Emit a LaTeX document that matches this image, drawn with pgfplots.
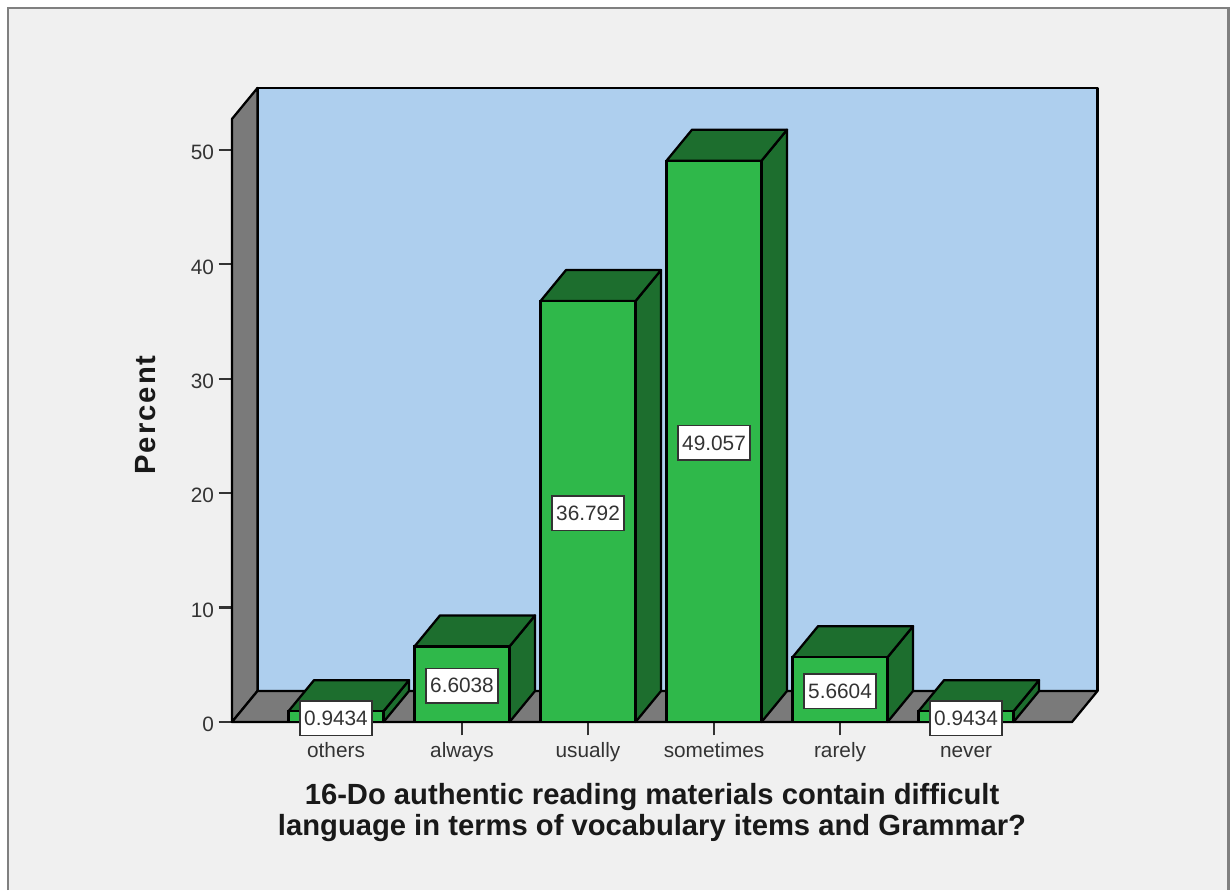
\documentclass[border=0pt]{standalone}
\usepackage{pgfplots}
\pgfplotsset{compat=1.18}
\usepackage{fontspec}
\setmainfont{Liberation Sans}
\definecolor{bgc}{HTML}{F0F0F0}
\definecolor{framec}{HTML}{808080}
\definecolor{wallc}{HTML}{AECFEE}
\definecolor{sidec}{HTML}{7A7A7A}
\definecolor{gfront}{HTML}{2FB84A}
\definecolor{gdark}{HTML}{1D6E2E}
\definecolor{txtc}{HTML}{333333}
\pgfplotsset{
  face/.style={draw=black,line width=1.7pt,line join=round,forget plot},
  fside/.style={face,fill=gdark},
}
\begin{document}
\begin{tikzpicture}
\path[fill=white] (0,0) rectangle (922.5pt,667.5pt);
\path[fill=bgc,draw=framec,line width=2pt] (6pt,0pt) -- (6pt,661.5pt) -- (921.5pt,661.5pt) -- (921.5pt,0pt);
\begin{axis}[
  at={(174pt,126pt)},anchor=south west,
  scale only axis,width=630pt,height=452.25pt,
  clip=false,
  xmin=-0.8254,xmax=5.841,ymin=0,ymax=52.71,
  axis x line*=bottom,axis y line*=left,
  axis line style={-,black,line width=1.7pt},
  xtick={0,1,2,3,4,5},
  xticklabels={others,always,usually,sometimes,rarely,never},
  ytick={0,10,20,30,40,50},
  tick style={txtc,line width=1.7pt},
  tick align=outside,
  major tick length=10pt,
  tick label style={font=\fontsize{15.6pt}{18pt}\selectfont,text=txtc},
  /pgf/number format/assume math mode=true,
  xticklabel style={text height=11.5pt,text depth=3.5pt,yshift=-1.5pt},
  yticklabel style={xshift=0pt,yshift=-2pt},
  xlabel={16-Do authentic reading materials contain difficult\\language in terms of vocabulary items and Grammar?},
  xlabel style={at={(axis description cs:0.5,-0.1500)},anchor=center,align=center,
    font=\fontsize{21.9pt}{23.2pt}\selectfont\bfseries,text=black!90},
  ylabel={Percent},
  ylabel style={at={(axis description cs:-0.1024,0.509)},anchor=center,
    font=\fontsize{21.9pt}{23pt}\selectfont\bfseries\addfontfeature{LetterSpace=7},text=black!90},
]
% back wall, left wall, floor
\addplot[face,fill=wallc] coordinates {(-0.6230,2.71)(6.0434,2.71)(6.0434,55.42)(-0.6230,55.42)} -- cycle;
\addplot[face,fill=sidec] coordinates {(-0.8254,0)(-0.6230,2.71)(-0.6230,55.42)(-0.8254,52.71)} -- cycle;
\addplot[face,fill=sidec] coordinates {(-0.8254,0)(5.841,0)(6.0434,2.71)(-0.6230,2.71)} -- cycle;
% others
\addplot[fside] coordinates {(0.377,0)(0.5794,2.71)(0.5794,3.6534)(0.377,0.9434)} -- cycle;
\addplot[fside] coordinates {(-0.377,0.9434)(0.377,0.9434)(0.5794,3.6534)(-0.1746,3.6534)} -- cycle;
% always
\addplot[fside] coordinates {(1.377,0)(1.5794,2.71)(1.5794,9.3138)(1.377,6.6038)} -- cycle;
\addplot[fside] coordinates {(0.623,6.6038)(1.377,6.6038)(1.5794,9.3138)(0.8254,9.3138)} -- cycle;
% usually
\addplot[fside] coordinates {(2.377,0)(2.5794,2.71)(2.5794,39.502)(2.377,36.792)} -- cycle;
\addplot[fside] coordinates {(1.623,36.792)(2.377,36.792)(2.5794,39.502)(1.8254,39.502)} -- cycle;
% sometimes
\addplot[fside] coordinates {(3.377,0)(3.5794,2.71)(3.5794,51.767)(3.377,49.057)} -- cycle;
\addplot[fside] coordinates {(2.623,49.057)(3.377,49.057)(3.5794,51.767)(2.8254,51.767)} -- cycle;
% rarely
\addplot[fside] coordinates {(4.377,0)(4.5794,2.71)(4.5794,8.3704)(4.377,5.6604)} -- cycle;
\addplot[fside] coordinates {(3.623,5.6604)(4.377,5.6604)(4.5794,8.3704)(3.8254,8.3704)} -- cycle;
% never
\addplot[fside] coordinates {(5.377,0)(5.5794,2.71)(5.5794,3.6534)(5.377,0.9434)} -- cycle;
\addplot[fside] coordinates {(4.623,0.9434)(5.377,0.9434)(5.5794,3.6534)(4.8254,3.6534)} -- cycle;
% front faces
\addplot[ybar,bar shift=0pt,bar width=71.25pt,fill=gfront,draw=black,line width=1.7pt,forget plot]
  coordinates {(0,0.9434)(1,6.6038)(2,36.792)(3,49.057)(4,5.6604)(5,0.9434)};
% value labels
\addplot[draw=none,mark=none,point meta=explicit symbolic,forget plot,
  nodes near coords,
  nodes near coords style={anchor=center,fill=white,draw=black!80,line width=1.3pt,
    font=\fontsize{15.6pt}{18pt}\selectfont,text=txtc,inner xsep=3.2pt,inner ysep=2.5pt,
    minimum height=26pt,yshift=-1.2pt}]
  coordinates {(0,0.4717)[0.9434](1,3.3019)[6.6038](2,18.396)[36.792](3,24.5285)[49.057](4,2.8302)[5.6604](5,0.4717)[0.9434]};
\end{axis}
\end{tikzpicture}
\end{document}
